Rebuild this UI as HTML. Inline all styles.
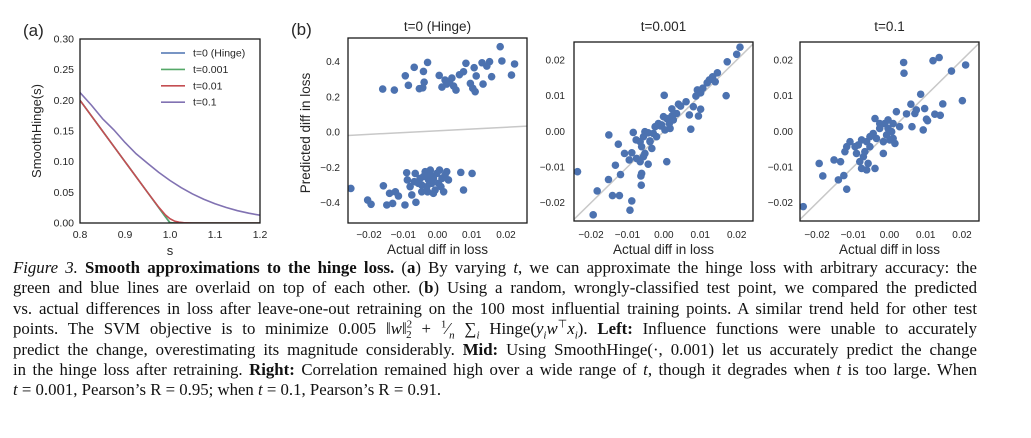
<!DOCTYPE html>
<html><head><meta charset="utf-8">
<style>
body{margin:0;background:#fff;width:1031px;height:438px;overflow:hidden;position:relative;font-family:"Liberation Sans",sans-serif}
svg{position:absolute;left:0;top:0}
.cap{position:absolute;left:13px;width:964px;height:20px;font-family:"Liberation Serif",serif;font-size:16.8px;line-height:20px;color:#111;text-align:justify;text-align-last:justify;white-space:nowrap}
.cap.last{text-align-last:left}
.cap sup,.cap sub{font-size:11px;line-height:0}
i{font-style:italic}
</style></head><body>
<svg id="fig" width="1031" height="438"></svg>

<div class="cap" style="top:258px"><i>Figure 3.</i> <b>Smooth approximations to the hinge loss.</b> (<b>a</b>) By varying <i>t</i>, we can approximate the hinge loss with arbitrary accuracy: the</div>
<div class="cap" style="top:278px">green and blue lines are overlaid on top of each other. (<b>b</b>) Using a random, wrongly-classified test point, we compared the predicted</div>
<div class="cap" style="top:299px">vs. actual differences in loss after leave-one-out retraining on the 100 most influential training points. A similar trend held for other test</div>
<div class="cap" style="top:319px">points. The SVM objective is to minimize 0.005 ‖<i>w</i>‖<sup>2</sup><sub style="margin-left:-6px">2</sub> + <sup>1</sup>⁄<sub><i>n</i></sub> ∑<sub><i>i</i></sub> Hinge(<i>y<sub>i</sub>w</i><sup>⊤</sup><i>x<sub>i</sub></i>). <b>Left:</b> Influence functions were unable to accurately</div>
<div class="cap" style="top:340px">predict the change, overestimating its magnitude considerably. <b>Mid:</b> Using SmoothHinge(·, 0.001) let us accurately predict the change</div>
<div class="cap" style="top:360px">in the hinge loss after retraining. <b>Right:</b> Correlation remained high over a wide range of <i>t</i>, though it degrades when <i>t</i> is too large. When</div>
<div class="cap last" style="top:380px"><i>t</i> = 0.001, Pearson’s R = 0.95; when <i>t</i> = 0.1, Pearson’s R = 0.91.</div>

<script>
// ---- Panel (a) data ----
const sHinge = [0.8,0.9,0.95,0.975,0.99,1.0,1.01,1.02,1.03,1.05,1.2];
const yHinge = [0.2,0.1,0.05,0.025,0.01,0,0,0,0,0,0];
const yT001 = [0.2,0.1,0.05,0.025,0.01,0.0007,0,0,0,0,0];
const yT01 = [0.2,0.1,0.05,0.0258,0.0131,0.0069,0.0031,0.0013,0.0005,0.0,0];
const sSmooth = [0.8,0.825,0.85,0.875,0.9,0.925,0.95,0.975,1.0,1.025,1.05,1.075,1.1,1.125,1.15,1.175,1.2];
const yT1 = [0.2127,0.1924,0.1701,0.1520,0.1313,0.1127,0.0974,0.0826,0.0693,0.0576,0.0474,0.0387,0.0313,0.0252,0.0201,0.0160,0.0127];
const aXTicks = [0.8,0.9,1.0,1.1,1.2];
const aYTicks = [0.00,0.05,0.10,0.15,0.20,0.25,0.30];
const legendLabels = ["t=0 (Hinge)","t=0.001","t=0.01","t=0.1"];

// ---- Panel (b) left: hinge ----
const hingeActual = [-0.0160,-0.0126,-0.0094,-0.0068,-0.0041,-0.0029,-0.0085,-0.0053,-0.0039,-0.0043,0.0005,0.0013,0.0022,0.0035,0.0042,0.0047,0.0054,0.0027,0.0064,0.0076,0.0083,0.0107,0.0113,0.0096,0.0103,0.0110,0.0133,0.0130,0.0152,0.0144,0.0158,0.0183,0.0188,0.0216,0.0225,
-0.0253,-0.0204,-0.0194,-0.0158,-0.0148,-0.0140,-0.0131,-0.0123,-0.0114,-0.0095,-0.0090,-0.0088,-0.0080,-0.0075,-0.0063,-0.0065,-0.0056,-0.0046,-0.0041,-0.0036,-0.0031,-0.0026,-0.0021,-0.0017,-0.0012,-0.0007,-0.0002,0.0003,0.0006,0.0013,0.0018,0.0022,0.0027,0.0032,-0.0012,-0.0046,-0.0029,-0.0051,-0.0068,0.0068,0.0076,0.0101,-0.0021,0.0010];
const hingePred = [0.245,0.239,0.320,0.368,0.345,0.396,0.266,0.247,0.284,0.252,0.322,0.256,0.296,0.288,0.307,0.262,0.239,0.273,0.326,0.343,0.391,0.366,0.319,0.277,0.249,0.230,0.273,0.394,0.400,0.375,0.315,0.485,0.404,0.324,0.387,
-0.319,-0.385,-0.409,-0.304,-0.413,-0.347,-0.404,-0.338,-0.362,-0.413,-0.230,-0.271,-0.309,-0.356,-0.398,-0.234,-0.290,-0.338,-0.252,-0.224,-0.309,-0.271,-0.243,-0.290,-0.262,-0.328,-0.234,-0.290,-0.215,-0.262,-0.338,-0.243,-0.224,-0.271,-0.347,-0.300,-0.338,-0.262,-0.281,-0.228,-0.328,-0.234,-0.215,-0.309];
const hingeFit = [1.01, 0.008]; // slope, intercept
const hingeYTicks = [-0.4,-0.2,0.0,0.2,0.4];

// ---- Panel (b) mid: t=0.001 ----
const t001Actual = [0.0209,0.0200,0.0174,0.0147,0.0134,0.0125,0.0119,0.0141,0.0171,0.0107,0.0092,0.0101,0.0088,0.0061,0.0081,0.0046,0.0040,0.0101,0.0095,0.0070,0.0074,0.0022,0.0001,0.0035,0.0026,0.0015,0.0008,-0.0001,-0.0006,0.0003,0.0017,-0.0015,-0.0024,-0.0029,-0.0020,-0.0052,-0.0056,-0.0061,-0.0065,-0.0076,-0.0084,-0.0043,-0.0038,-0.0033,-0.0052,-0.0056,-0.0043,-0.0065,-0.0075,-0.0088,-0.0095,-0.0108,-0.0125,-0.0151,-0.0133,-0.0119,-0.0152,-0.0061,-0.0063,-0.0062,-0.0088,-0.0093,-0.0122,-0.0141,-0.0183,-0.0194,-0.0237,0.0008,-0.0038,-0.0009,0.0022];
const t001Pred = [0.0236,0.0216,0.0195,0.0164,0.0153,0.0144,0.0136,0.0139,0.0100,0.0121,0.0116,0.0108,0.0099,0.0083,0.0069,0.0071,0.0076,0.0062,0.0043,0.0046,0.0006,0.0063,0.0101,0.0050,0.0032,0.0022,0.0036,0.0041,0.0018,0.0004,0.0008,0.0022,0.0013,-0.0006,-0.0015,-0.0001,-0.0015,-0.0043,-0.0029,-0.0024,-0.0003,-0.0004,-0.0027,-0.0048,-0.0062,-0.0071,-0.0092,-0.0085,-0.0076,-0.0060,-0.0080,-0.0062,-0.0036,-0.0010,-0.0095,-0.0121,-0.0135,-0.0118,-0.0125,-0.0151,-0.0195,-0.0221,-0.0180,-0.0180,-0.0167,-0.0234,-0.0113,-0.0085,-0.0029,0.0015,0.0043];

// ---- Panel (b) right: t=0.1 ----
const t1Actual = [0.0039,0.0040,0.0120,0.0137,0.0171,0.0210,0.0201,0.0086,0.0059,0.0097,0.0074,0.0070,0.0102,0.0125,0.0140,0.0147,0.0105,0.0062,0.0093,0.0047,0.0019,0.0028,0.0010,-0.0004,-0.0013,-0.0027,-0.0004,0.0006,-0.0008,0.0010,-0.0017,-0.0036,-0.0045,-0.0054,-0.0063,-0.0077,-0.0086,-0.0095,-0.0109,-0.0118,-0.0091,-0.0068,-0.0082,-0.0059,-0.0077,-0.0063,-0.0040,-0.0017,-0.0123,-0.0135,-0.0153,-0.0194,-0.0184,-0.0141,-0.0126,-0.0118,-0.0238,-0.0040,-0.0027,0.0001,0.0015,-0.0054,-0.0072];
const t1Pred = [0.0193,0.0163,0.0198,0.0207,0.0169,0.0186,0.0086,0.0104,0.0076,0.0064,0.0060,0.0050,0.0034,0.0048,0.0045,0.0077,0.0030,0.0013,0.0004,0.0049,0.0055,0.0013,0.0022,0.0032,0.0022,0.0008,0.0008,-0.0001,-0.0010,-0.0020,-0.0029,-0.0020,-0.0006,-0.0015,-0.0029,-0.0024,-0.0038,-0.0043,-0.0029,-0.0043,-0.0062,-0.0057,-0.0085,-0.0090,-0.0104,-0.0108,-0.0104,-0.0062,-0.0057,-0.0085,-0.0080,-0.0090,-0.0125,-0.0136,-0.0124,-0.0162,-0.0211,0.0036,0.0022,-0.0024,-0.0034,-0.0043,-0.0071];
const smallTicks = [-0.02,-0.01,0.00,0.01,0.02];

const NS = "http://www.w3.org/2000/svg";
const svg = document.getElementById('fig');
function el(tag, attrs, parent){
  const e = document.createElementNS(NS, tag);
  for (const k in attrs) e.setAttribute(k, attrs[k]);
  (parent||svg).appendChild(e);
  return e;
}
function lin(d0,d1,r0,r1){ return v => r0 + (v-d0)*(r1-r0)/(d1-d0); }
function txt(x,y,s,size,anchor,parent,extra){
  const t = el('text', Object.assign({x:x,y:y,'font-size':size,'text-anchor':anchor||'middle','fill':'#262626','font-family':'Liberation Sans, sans-serif'}, extra||{}), parent);
  t.textContent = s;
  return t;
}
function frame(g, x0,y0,x1,y1){
  const r = el('rect',{x:x0,y:y0,width:x1-x0,height:y1-y0,fill:'none',stroke:'#1a1a1a','stroke-width':1.3},g);
  
  
}

// ===== Panel (a) =====
(function(){
  const g = el('g',{});
  
  
  const X = lin(0.8,1.2,80,260), Y = lin(0,0.3,223,39);
  const clipR = el('clipPath',{id:'ca'},g); el('rect',{x:80,y:39,width:180,height:184},clipR);
  const series = [[sHinge,yHinge,'#4C72B0','line-hinge'],[sHinge,yT001,'#55A868','line-t0001'],[sHinge,yT01,'#C44E52','line-t001'],[sSmooth,yT1,'#8172B2','line-t01']];
  series.forEach(s=>{
    const d = s[0].map((v,i)=>(i?'L':'M')+X(v).toFixed(2)+','+Y(s[1][i]).toFixed(2)).join(' ');
    const p = el('path',{d:d,fill:'none',stroke:s[2],'stroke-width':1.6,'clip-path':'url(#ca)','stroke-linejoin':'round'},g);
    
    
  });
  frame(g,80,39,260,223);
  aXTicks.forEach(v=>{ const t=txt(X(v),238,v.toFixed(1),10.5,'middle',g);   });
  aYTicks.forEach(v=>{ const t=txt(74,Y(v)+3.5,v.toFixed(2),10.5,'end',g);   });
  const xl = txt(170,255,'s',13,'middle',g);  
  const yl = txt(0,0,'SmoothHinge(s)',13,'middle',g,{transform:'translate(41,131) rotate(-90)'});  
  const pl = txt(23,36,'(a)',17,'start',g);  
  const cols = ['#4C72B0','#55A868','#C44E52','#8172B2'];
  legendLabels.forEach((l,i)=>{
    const yy = 53 + i*16.4;
    const ln = el('line',{x1:161,x2:185,y1:yy,y2:yy,stroke:cols[i],'stroke-width':1.6},g);
    
    
    const t = txt(193,yy+3.5,l,10.5,'start',g);
    
    
  });
})();

// ===== Scatter panels =====
function scatter(name, box, X, Y, xs, ys, yTicks, yFmt, title, lineFn, yTickRight){
  const g = el('g',{});
  
  
  const id = 'c'+name;
  const cp = el('clipPath',{id:id},g); el('rect',{x:box[0],y:box[1],width:box[2]-box[0],height:box[3]-box[1]},cp);
  const xa = X.inv(box[0]), xb = X.inv(box[2]);
  const ln = el('line',{x1:box[0],x2:box[2],y1:Y(lineFn(xa)),y2:Y(lineFn(xb)),stroke:'#c8c8c8','stroke-width':1.5,'clip-path':'url(#'+id+')'},g);
  
  
  xs.forEach((v,i)=>{
    const c = el('circle',{cx:X(v),cy:Y(ys[i]),r:3.8,fill:'#4C72B0','clip-path':'url(#'+id+')'},g);
    
    
  });
  frame(g,box[0],box[1],box[2],box[3]);
  smallTicks.forEach(v=>{ const t=txt(X(v),238,v.toFixed(2).replace('-','\u2212'),10,'middle',g);   });
  yTicks.forEach(v=>{ const t=txt(yTickRight,Y(v)+3.5,v.toFixed(yFmt).replace('-','\u2212'),10,'end',g);   });
  const tt = txt((box[0]+box[2])/2,31,title,13.5,'middle',g);  
  const xl = txt((box[0]+box[2])/2,254,'Actual diff in loss',13.5,'middle',g);  
  return g;
}
function scale(v0,p0,v1,p1){ const f=lin(v0,v1,p0,p1); f.inv = lin(p0,p1,v0,v1); return f; }

const X1 = scale(-0.02,369,0.02,506), Y1 = scale(0.4,61.7,-0.4,202.7);
const g1 = scatter('panel-b-hinge',[348,38,527,223],X1,Y1,hingeActual,hingePred,hingeYTicks,1,'t=0 (Hinge)',x=>hingeFit[0]*x+hingeFit[1],340);
const yl1 = txt(0,0,'Predicted diff in loss',13.5,'middle',g1,{transform:'translate(310,133) rotate(-90)'});


const pb = txt(291,35,'(b)',17,'start',g1);



const X2 = scale(-0.02,591,0.02,736.7), Y2 = scale(0.02,60,-0.02,202.7);
scatter('panel-b-t0001',[574,42,753,221],X2,Y2,t001Actual,t001Pred,smallTicks,2,'t=0.001',x=>x,565);
const X3 = scale(-0.02,817,0.02,962), Y3 = scale(0.02,60,-0.02,202.7);
scatter('panel-b-t01',[800,42,979,221],X3,Y3,t1Actual,t1Pred,smallTicks,2,'t=0.1',x=>x,793);
</script>
</body></html>
